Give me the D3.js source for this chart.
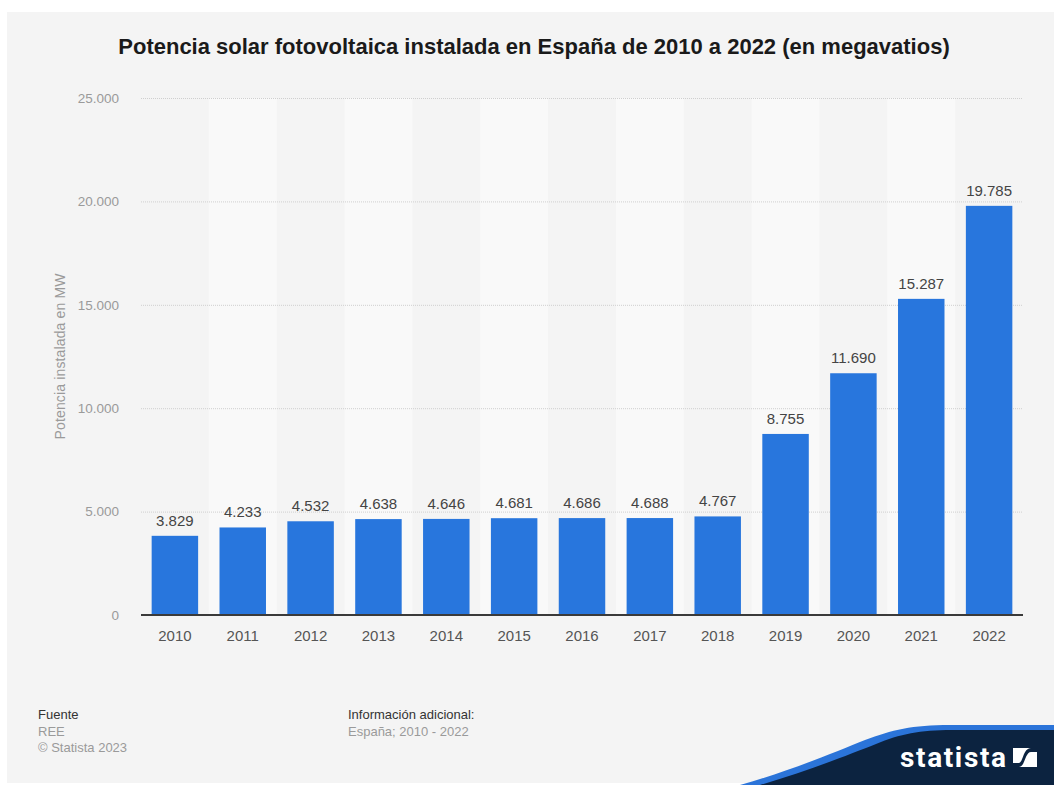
<!DOCTYPE html>
<html lang="es">
<head>
<meta charset="utf-8">
<script src="https://cdn.jsdelivr.net/npm/d3@7"></script>
<style>
  html, body { margin: 0; padding: 0; background: #ffffff; }
  svg { display: block; font-family: "Liberation Sans", Arial, Helvetica, sans-serif; }
</style>
</head>
<body>
<svg id="chart" width="1054" height="785"></svg>
<script>
// Potencia solar fotovoltaica instalada en España (MW)
const years = ["2010", "2011", "2012", "2013", "2014", "2015", "2016", "2017", "2018", "2019", "2020", "2021", "2022"];
const capacityMW = [3829, 4233, 4532, 4638, 4646, 4681, 4686, 4688, 4767, 8755, 11690, 15287, 19785];
const yTicks = [0, 5000, 10000, 15000, 20000, 25000];

const W = 1054, H = 785;
const margin = { left: 141, right: 31, top: 98, bottom: 170 };
const svg = d3.select("#chart");

const fmt = d3.formatLocale({ decimal: ",", thousands: ".", grouping: [3], currency: ["", "€"] }).format(",d");

// panel background
svg.append("rect").attr("x", 7).attr("y", 12).attr("width", W - 7).attr("height", H - 14).attr("fill", "#f4f4f4");

const x = d3.scaleBand().domain(years).range([margin.left, W - margin.right]).paddingInner(0.315).paddingOuter(0.157);
const y = d3.scaleLinear().domain([0, 25000]).range([H - margin.bottom, margin.top]);

// alternating column bands
svg.append("g").selectAll("rect")
  .data(years.filter((d, i) => i % 2 === 1))
  .join("rect")
  .attr("x", d => x(d) + x.bandwidth() / 2 - x.step() / 2)
  .attr("y", y(25000))
  .attr("width", x.step())
  .attr("height", y(0) - y(25000))
  .attr("fill", "#f9f9f9");

// y grid + ticks
const yAxis = svg.append("g")
  .attr("transform", `translate(${margin.left},0)`)
  .call(d3.axisLeft(y).tickValues(yTicks).tickFormat(d => fmt(d)).tickSize(-(W - margin.left - margin.right)).tickPadding(22));
yAxis.select(".domain").remove();
yAxis.selectAll(".tick line").attr("stroke", "#cfcfcf").attr("stroke-dasharray", "1,1").attr("stroke-width", 1);
yAxis.selectAll(".tick text").attr("fill", "#9a9a9a").attr("font-size", 13.5);

// y axis title
svg.append("text")
  .attr("transform", `translate(65,${(y(0) + y(25000)) / 2}) rotate(-90)`)
  .attr("text-anchor", "middle")
  .attr("fill", "#9a9a9a").attr("font-size", 14)
  .attr("textLength", 166)
  .text("Potencia instalada en MW");

// bars
svg.append("g").selectAll("rect")
  .data(years)
  .join("rect")
  .attr("x", d => x(d))
  .attr("width", x.bandwidth())
  .attr("y", (d, i) => y(capacityMW[i]))
  .attr("height", (d, i) => y(0) - y(capacityMW[i]))
  .attr("fill", "#2876dd");

// value labels
svg.append("g").selectAll("text")
  .data(years)
  .join("text")
  .attr("x", d => x(d) + x.bandwidth() / 2)
  .attr("y", (d, i) => y(capacityMW[i]) - 10)
  .attr("text-anchor", "middle")
  .attr("fill", "#444444").attr("font-size", 15)
  .text((d, i) => fmt(capacityMW[i]));

// x axis
const xAxis = svg.append("g")
  .attr("transform", `translate(0,${y(0)})`)
  .call(d3.axisBottom(x).tickSize(0).tickPadding(15));
xAxis.select(".domain").attr("stroke", "#3a3a3a").attr("stroke-width", 2)
  .attr("d", `M${margin.left},0H${W - margin.right}`);
xAxis.selectAll(".tick text").attr("fill", "#555555").attr("font-size", 15);

// title
svg.append("text")
  .attr("x", 534).attr("y", 54)
  .attr("text-anchor", "middle")
  .attr("font-weight", "bold").attr("font-size", 22).attr("fill", "#1a1a1a")
  .text("Potencia solar fotovoltaica instalada en España de 2010 a 2022 (en megavatios)");

// footer
const foot = svg.append("g").attr("font-size", 13);
foot.append("text").attr("x", 38).attr("y", 719).attr("fill", "#333").text("Fuente");
foot.append("text").attr("x", 38).attr("y", 736).attr("fill", "#9a9a9a").text("REE");
foot.append("text").attr("x", 38).attr("y", 752).attr("fill", "#9a9a9a").text("© Statista 2023");
foot.append("text").attr("x", 348).attr("y", 719).attr("fill", "#333").text("Información adicional:");
foot.append("text").attr("x", 348).attr("y", 736).attr("fill", "#9a9a9a").text("España; 2010 - 2022");

// brand wave
const wave = "M740,785 C790,771 835,752 865,740 C892,730 912,725 950,725 L1054,725 L1054,785 Z";
svg.append("path").attr("d", wave).attr("fill", "#2b74d9");
svg.append("path").attr("d", "M760,785 C805,772 848,755 876,744 C900,734 920,730 952,730 L1054,730 L1054,785 Z").attr("fill", "#0c2340");
svg.append("text")
  .attr("x", 900).attr("y", 767)
  .attr("fill", "#ffffff").attr("font-weight", "bold").attr("font-size", 28)
  .attr("font-family", "'Liberation Sans Narrow', 'Roboto', sans-serif")
  .attr("textLength", 106)
  .text("statista");
const icon = svg.append("g").attr("transform", "translate(1013,748)");
icon.append("rect").attr("width", 24).attr("height", 19).attr("fill", "#ffffff");
icon.append("path").attr("d", "M0,19 L6,19 C12,19 12,4 18,4 L24,4 L24,0 L18,0 C10,0 10,15 6,15 L0,15 Z").attr("fill", "#0c2340");
</script>
</body>
</html>
